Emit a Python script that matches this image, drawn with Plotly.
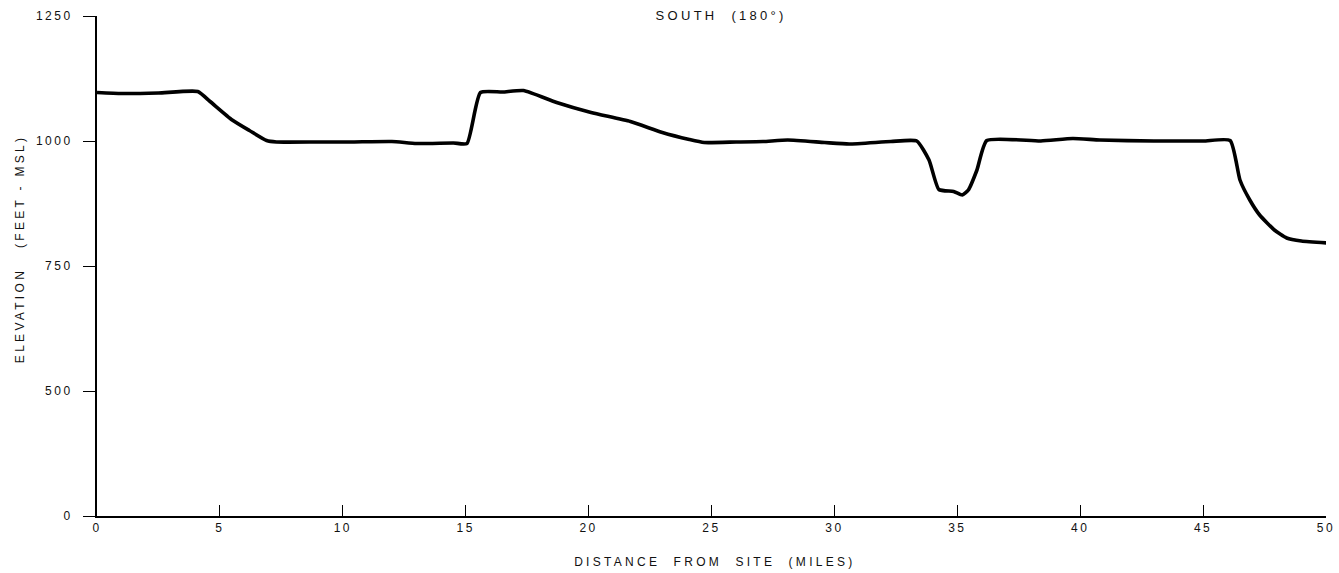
import plotly.graph_objects as go

# Distance from site (miles) and terrain elevation (feet MSL)
miles = [0, 1.0, 2.5, 4.1, 4.6, 5.5, 6.2, 6.9, 7.3, 9.0, 10.3, 12.0, 13.0, 14.5, 15.05,
         15.6, 16.5, 17.35, 18.7, 20.1, 21.7, 23.0, 24.1, 24.7, 26.0, 27.1, 28.1, 29.6,
         30.6, 32.3, 33.35, 33.85, 34.25, 34.85, 35.2, 35.45, 35.8, 36.2, 38.4, 39.7,
         40.8, 43.0, 45.0, 46.1, 46.5, 46.9, 47.3, 47.9, 48.4, 49.0, 50.1]
elev = [1097, 1095, 1096, 1099, 1079, 1042, 1021, 1001, 998, 998, 998, 999, 995, 996, 995,
        1097, 1098, 1101, 1077, 1057, 1039, 1017, 1003, 997, 998, 999, 1002, 997,
        994, 999, 1000, 962, 903, 899, 892, 902, 942, 1001, 1000, 1005,
        1002, 1000, 1000, 1001, 922, 882, 852, 822, 806, 800, 796]

x_ticks = [0, 5, 10, 15, 20, 25, 30, 35, 40, 45, 50]
# broken elevation axis: the "0" label sits one step below 500
y_tickvals = [250, 500, 750, 1000, 1250]
y_ticktext = ["0", "500", "750", "1000", "1250"]

title_text = "SOUTH  (180°)"
x_title = "DISTANCE  FROM  SITE  (MILES)"
y_title = "ELEVATION   (FEET - MSL)"

FONT = "Liberation Sans, Arial, sans-serif"
INK = "#111111"

fig = go.Figure()
fig.add_trace(go.Scatter(
    x=miles, y=elev, mode="lines",
    line=dict(color="black", width=3.6, shape="spline", smoothing=0.5),
    showlegend=False, hoverinfo="skip"))

fig.update_layout(
    width=1339, height=573,
    margin=dict(l=97, r=13, t=16, b=57),
    paper_bgcolor="white", plot_bgcolor="white",
    font=dict(family=FONT, size=12, color=INK),
    xaxis=dict(range=[0, 50], tickvals=x_ticks, ticktext=[str(v) for v in x_ticks],
               ticks="inside", ticklen=11, tickwidth=1.3, tickcolor="black",
               showline=True, linecolor="black", linewidth=2,
               showgrid=False, zeroline=False, automargin=False,
               tickfont=dict(family=FONT, size=12, color=INK)),
    yaxis=dict(range=[250, 1250], tickvals=y_tickvals, ticktext=y_ticktext,
               ticks="outside", ticklen=12, tickwidth=1.3, tickcolor="black",
               ticklabelstandoff=8,
               showline=True, linecolor="black", linewidth=2,
               showgrid=False, zeroline=False, automargin=False,
               tickfont=dict(family=FONT, size=12, color=INK)),
    annotations=[
        dict(text=title_text, xref="paper", yref="paper", x=0.508, y=1.002,
             xanchor="center", yanchor="middle", showarrow=False,
             font=dict(family=FONT, size=13, color=INK)),
        dict(text=x_title, xref="paper", yref="paper", x=0.503, y=-0.092,
             xanchor="center", yanchor="middle", showarrow=False,
             font=dict(family=FONT, size=12, color=INK)),
        dict(text=y_title, xref="paper", yref="paper", x=-0.063, y=0.534,
             xanchor="center", yanchor="middle", showarrow=False, textangle=-90,
             font=dict(family=FONT, size=12, color=INK)),
    ],
)

post = """
document.body.style.margin = '0';
document.body.style.padding = '0';
document.querySelectorAll('.xtick text, .ytick text').forEach(function(t){
  t.style.letterSpacing = '2.5px';
});
document.querySelectorAll('.annotation-text').forEach(function(t){
  t.style.letterSpacing = '3.3px';
});
"""
fig.write_html("out.html", post_script=post, config={"displayModeBar": False})
